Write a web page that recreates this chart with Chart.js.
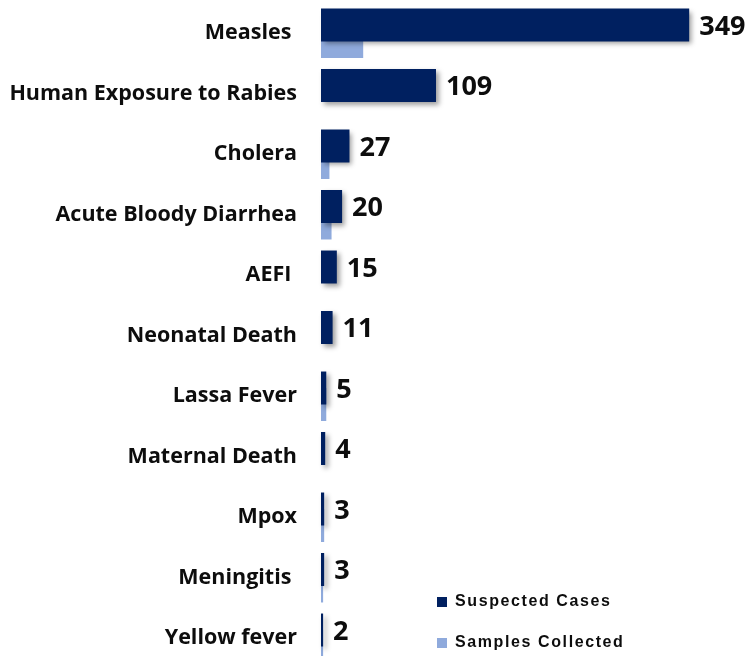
<!DOCTYPE html>
<html>
<head>
<meta charset="utf-8">
<script src="https://cdn.jsdelivr.net/npm/chart.js@4/dist/chart.umd.min.js"></script>
<style>
  html, body { margin: 0; padding: 0; background: #ffffff; }
  #wrap { width: 749px; height: 656px; position: relative; }
</style>
</head>
<body>
<div id="wrap"><canvas id="c" width="749" height="656"></canvas></div>
<script>
const categories = ["Measles ", "Human Exposure to Rabies", "Cholera", "Acute Bloody Diarrhea", "AEFI ", "Neonatal Death", "Lassa Fever", "Maternal Death", "Mpox", "Meningitis ", "Yellow fever"];
const suspectedCases = [349, 109, 27, 20, 15, 11, 5, 4, 3, 3, 2];
const samplesCollected = [40, 0, 8, 10, 0, 0, 5, 0, 3, 2, 2];
const seriesNames = ["Suspected Cases", "Samples Collected"];

const DARK = "#002060";
const LIGHT = "#8FAADC";

const shadowPlugin = {
  id: "barShadow",
  beforeDatasetDraw(chart, args) {
    if (args.index !== 0) return;
    const ctx = chart.ctx;
    ctx.save();
    ctx.shadowColor = "rgba(0,0,0,0.38)";
    ctx.shadowBlur = 5;
    ctx.shadowOffsetX = 3;
    ctx.shadowOffsetY = 3;
  },
  afterDatasetDraw(chart, args) {
    if (args.index !== 0) return;
    chart.ctx.restore();
  }
};

const valueLabels = {
  id: "valueLabels",
  afterDatasetsDraw(chart) {
    const ctx = chart.ctx;
    const meta = chart.getDatasetMeta(0);
    ctx.save();
    ctx.font = "bold 27px 'Open Sans'";
    ctx.fillStyle = "#0d0d0d";
    ctx.textAlign = "left";
    ctx.textBaseline = "middle";
    meta.data.forEach((el, i) => {
      ctx.fillText(String(suspectedCases[i]), el.x + 10, el.y + 2);
    });
    ctx.restore();
  }
};

const legendMover = {
  id: "legendMover",
  beforeDraw(chart) {
    const lg = chart.legend;
    if (!lg) return;
    const pad = lg.options.labels.padding;
    const w = lg.right - lg.left;
    const h = lg.bottom - lg.top;
    lg.left = 437 - pad;
    lg.right = lg.left + w;
    lg.top = 594 - pad;
    lg.bottom = lg.top + h;
    if (!lg._spacedDraw) {
      const orig = lg.draw;
      lg.draw = function (area) {
        const c = this.ctx;
        c.save();
        c.letterSpacing = "1.6px";
        orig.call(this, area);
        c.restore();
      };
      lg._spacedDraw = true;
    }
  }
};

new Chart(document.getElementById("c"), {
  type: "bar",
  data: {
    labels: categories,
    datasets: [
      {
        label: seriesNames[0],
        data: suspectedCases,
        backgroundColor: DARK,
        borderWidth: 0,
        categoryPercentage: 0.545,
        barPercentage: 2.0,
        clip: false
      },
      {
        label: seriesNames[1],
        data: samplesCollected,
        backgroundColor: LIGHT,
        borderWidth: 0,
        categoryPercentage: 0.545,
        barPercentage: 2.0,
        clip: false
      }
    ]
  },
  options: {
    indexAxis: "y",
    responsive: false,
    animation: false,
    devicePixelRatio: 1,
    layout: { padding: { left: 0, right: 6, top: 33.25, bottom: 17.75 } },
    scales: {
      x: {
        display: false,
        min: 0,
        max: 400
      },
      y: {
        offset: false,
        grid: { display: false, drawTicks: false, offset: false },
        border: { display: false },
        ticks: {
          color: "#0d0d0d",
          font: { family: "'Open Sans'", size: 21.5, weight: "bold" },
          padding: 24,
          autoSkip: false
        },
        afterFit(scale) {
          scale.width = 321;
          scale.paddingTop = 0;
          scale.paddingBottom = 0;
        }
      }
    },
    plugins: {
      tooltip: { enabled: false },
      legend: {
        position: "chartArea",
        align: "start",
        labels: {
          boxWidth: 10,
          boxHeight: 10,
          padding: 25,
          color: "#0d0d0d",
          font: { family: "'Liberation Sans'", size: 16, weight: "bold" }
        }
      }
    }
  },
  plugins: [shadowPlugin, valueLabels, legendMover]
});
</script>
</body>
</html>
